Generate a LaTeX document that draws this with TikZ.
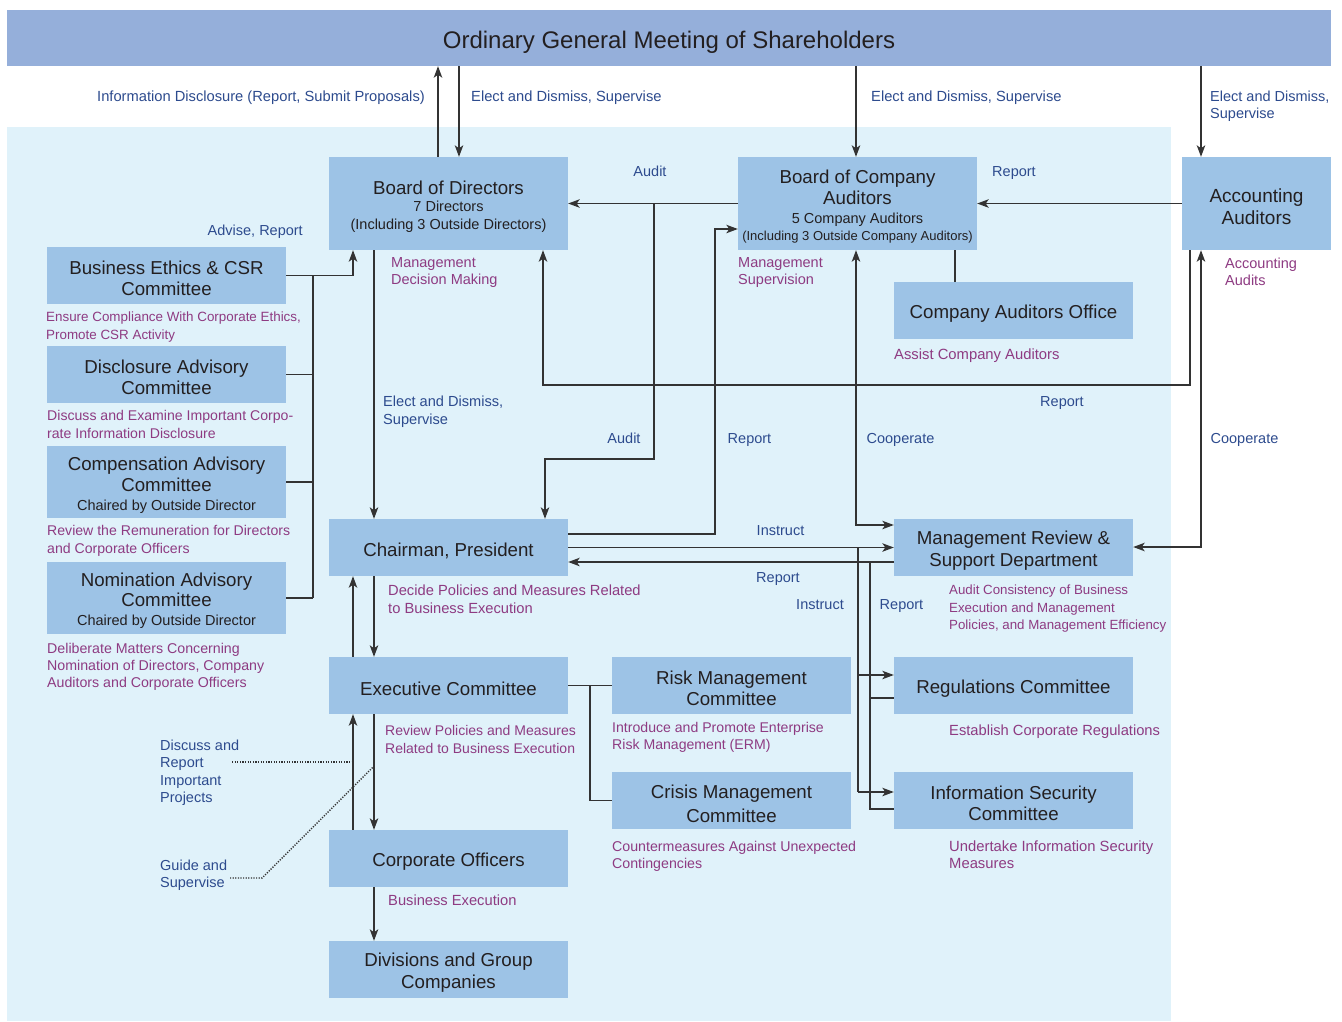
\documentclass[tikz,border=0pt]{standalone}
\usepackage{fontspec}
\setmainfont{Liberation Sans}
\usetikzlibrary{arrows.meta}
\definecolor{boxc}{HTML}{9DC3E6}
\definecolor{banc}{HTML}{95AFDA}
\definecolor{bgc}{HTML}{E0F2FA}
\definecolor{bluet}{HTML}{2D4B8E}
\definecolor{magt}{HTML}{8E3B82}
\definecolor{txt}{HTML}{231F20}
\definecolor{linec}{HTML}{333333}
\newcommand\BxF{\fontsize{18.7}{21.5}\selectfont}
\newcommand\SbF{\fontsize{14.5}{17.5}\selectfont}
\newcommand\LF[2]{\fontsize{#1}{#2}\selectfont}
\begin{document}
\begin{tikzpicture}[x=1pt,y=-1pt,
  ubox/.style={fill=boxc, inner sep=0pt, text width=239pt, text height=19.6pt, minimum height=57pt, align=flush center, text=txt, font=\BxF},
  bl/.style={text=bluet, inner sep=0pt, font=\LF{14.5}{17}, align=left},
  mg/.style={text=magt, inner sep=0pt, font=\LF{14.5}{17}, align=left},
  ln/.style={draw=linec, line width=1.2pt},
  arr/.style={ln, -{Stealth[length=11.5pt,width=8.5pt,inset=3pt]}},
  arrb/.style={ln, {Stealth[length=11.5pt,width=8.5pt,inset=3pt]}-{Stealth[length=11.5pt,width=8.5pt,inset=3pt]}},
  dotl/.style={draw=linec, line width=1.4pt, dash pattern=on 1.2pt off 1.4pt}]
\useasboundingbox (0,0) rectangle (1342,1021);
\fill[white] (0,0) rectangle (1342,1021);
\fill[bgc] (7,127) rectangle (1171,1021);

% ---------- boxes ----------
\node[ubox, fill=banc, text width=1324pt, text height=25.5pt, minimum height=56pt, font=\fontsize{24}{28}\selectfont] (gm) at (669,38) {Ordinary General Meeting of Shareholders};
\node[ubox, minimum height=93pt, font=\SbF] (bod) at (448.5,203.5) {{\BxF Board of Directors}\\7 Directors\\(Including 3 Outside Directors)};
\node[ubox, minimum height=93pt, font=\LF{14.5}{17}] (boca) at (857.5,203.5) {{\BxF Board of Company}\\[2.5pt]{\BxF Auditors}\\[2pt]5 Company Auditors\\{\LF{13}{17}(Including 3 Outside Company Auditors)}};
\node[ubox, text width=149pt, text height=19.9pt, minimum height=93pt, font=\LF{19}{22}] (aa) at (1256.5,203.5) {Accounting\\Auditors};
\node[ubox] (cao) at (1013.5,310.5) {Company Auditors Office};
\node[ubox] (bec) at (166.5,275.5) {Business Ethics \& CSR\\Committee};
\node[ubox] (dac) at (166.5,374.5) {Disclosure Advisory\\Committee};
\node[ubox, minimum height=72pt] (cac) at (166.5,482) {Compensation Advisory\\Committee\\[-2.5pt]{\SbF Chaired by Outside Director}};
\node[ubox, minimum height=72pt, font=\LF{18.7}{20}] (nac) at (166.5,598) {Nomination Advisory\\Committee\\[-1pt]{\SbF Chaired by Outside Director}};
\node[ubox] (chair) at (448.5,547.5) {Chairman, President};
\node[ubox] (mrsd) at (1013.5,547.5) {Management Review \&\\Support Department};
\node[ubox] (ec) at (448.5,685.5) {Executive Committee};
\node[ubox] (rmc) at (731.5,685.5) {Risk Management\\Committee};
\node[ubox] (rc) at (1013.5,685.5) {Regulations Committee};
\node[ubox] (cmc) at (731.5,800.5) {Crisis Management\\[2.5pt]Committee};
\node[ubox] (isc) at (1013.5,800.5) {Information Security\\Committee};
\node[ubox] (co) at (448.5,858.5) {Corporate Officers};
\node[ubox] (dgc) at (448.5,969.5) {Divisions and Group\\Companies};

% ---------- rails ----------
\coordinate (xa) at (438,0);
\coordinate (xb) at (459,0);
\coordinate (xc) at (856,0);
\coordinate (xd) at (1201,0);
\coordinate (xe) at (955,0);
\coordinate (xf) at (374,0);
\coordinate (adv) at (353,0);
\coordinate (bus) at (313,0);
\coordinate (br) at (590,0);

% ---------- connectors ----------
\draw[arr] (bod.north -| xa) -- (gm.south -| xa);
\draw[arr] (gm.south -| xb) -- (bod.north -| xb);
\draw[arr] (gm.south -| xc) -- (boca.north -| xc);
\draw[arr] (gm.south -| xd) -- (aa.north -| xd);
\draw[arr] (boca.west) -- (bod.east);
\draw[arr] (aa.west) -- (boca.east);
\coordinate (au1) at (654,459);
\coordinate (au2) at (545,459);
\draw[arr] (boca.west -| au1) -- (au1) -- (au2) -- (chair.north -| au2);
\coordinate (rp1) at (715,534);
\coordinate (rp2) at (715,229);
\draw[arr] (chair.east |- rp1) -- (rp1) -- (rp2) -- (boca.west |- rp2);
\draw[ln] (boca.south -| xe) -- (cao.north -| xe);
\coordinate (rq1) at (1190,385);
\coordinate (rq2) at (543,385);
\draw[arr] (aa.south -| rq1) -- (rq1) -- (rq2) -- (bod.south -| rq2);
\coordinate (cp1) at (856,525);
\draw[arrb] (boca.south -| cp1) -- (cp1) -- (mrsd.west |- cp1);
\coordinate (cp2) at (1201,547);
\draw[arrb] (aa.south -| cp2) -- (cp2) -- (mrsd.east |- cp2);

\draw[ln] (bec.east -| bus) -- (nac.east -| bus);
\draw[ln] (dac.east) -- (dac.east -| bus);
\draw[ln] (cac.east) -- (cac.east -| bus);
\draw[ln] (nac.east) -- (nac.east -| bus);
\draw[arr] (bec.east) -- (bec.east -| adv) -- (bod.south -| adv);

\draw[arr] (bod.south -| xf) -- (chair.north -| xf);
\draw[arr] (chair.east) -- (mrsd.west);
\coordinate (rr0) at (870,562);
\draw[arr] (mrsd.west |- rr0) -- (chair.east |- rr0);
\coordinate (in1) at (858,675);
\coordinate (in2) at (858,792);
\draw[ln] (chair.east -| in1) -- (in2);
\draw[arr] (in1) -- (rc.west |- in1);
\draw[arr] (in2) -- (isc.west |- in2);
\coordinate (rr1) at (870,698);
\coordinate (rr2) at (870,809);
\draw[ln] (rc.west |- rr1) -- (rr1);
\draw[ln] (isc.west |- rr2) -- (rr2) -- (rr0);

\draw[arr] (chair.south -| xf) -- (ec.north -| xf);
\draw[arr] (ec.north -| adv) -- (chair.south -| adv);
\draw[arr] (ec.south -| xf) -- (co.north -| xf);
\draw[arr] (co.north -| adv) -- (ec.south -| adv);
\draw[arr] (co.south -| xf) -- (dgc.north -| xf);
\draw[ln] (ec.east) -- (rmc.west);
\draw[ln] (ec.east -| br) -- (cmc.west -| br) -- (cmc.west);

\coordinate (dA) at (232,762);
\coordinate (dB) at (353,762);
\draw[dotl] (dA) -- (dB);
\coordinate (gA) at (230,878);
\coordinate (gB) at (262,878);
\coordinate (gC) at (374,766);
\draw[dotl] (gA) -- (gB) -- (gC);

% ---------- blue labels ----------
\node[bl, anchor=base east, font=\LF{14.7}{17}] (l1) at (425,101.2) {Information Disclosure (Report, Submit Proposals)};
\node[bl, anchor=base west, font=\LF{14.7}{17}] (l2) at (471,101.2) {Elect and Dismiss, Supervise};
\node[bl, anchor=base west, font=\LF{14.7}{17}] (l3) at (871,101.2) {Elect and Dismiss, Supervise};
\node[bl, anchor=north west] (l4) at (1210,90.8) {Elect and Dismiss,\\Supervise};
\node[bl, anchor=base] (l5) at (650,176.2) {Audit};
\node[bl, anchor=base] (l6) at (1014,176.2) {Report};
\node[bl, anchor=base east] (l7) at (303,235.2) {Advise, Report};
\node[bl, anchor=north west, font=\LF{14.6}{18}] (l8) at (383,395.8) {Elect and Dismiss,\\Supervise};
\node[bl, anchor=base] (l9) at (1062,406.2) {Report};
\node[bl, anchor=base] (l10) at (624,443.2) {Audit};
\node[bl, anchor=base] (l11) at (749.5,443.2) {Report};
\node[bl, anchor=base] (l12) at (900.5,443.2) {Cooperate};
\node[bl, anchor=base] (l13) at (1244.5,443.2) {Cooperate};
\node[bl, anchor=base] (l14) at (780.5,535.2) {Instruct};
\node[bl, anchor=base] (l15) at (778,582.2) {Report};
\node[bl, anchor=base] (l16) at (820,609.2) {Instruct};
\node[bl, anchor=base] (l17) at (901.5,609.2) {Report};
\node[bl, anchor=north west, font=\LF{14.5}{17.3}] (l18) at (160,739.8) {Discuss and\\Report\\Important\\Projects};
\node[bl, anchor=north west] (l19) at (160,859.8) {Guide and\\Supervise};

% ---------- magenta labels ----------
\node[mg, anchor=north west] (m1) at (391,257.8) {Management\\Decision Making};
\node[mg, anchor=north west] (m2) at (738,257.8) {Management\\Supervision};
\node[mg, anchor=north west] (m3) at (1225,257.8) {Accounting\\Audits};
\node[mg, anchor=base west, font=\LF{14.8}{17}] (m4) at (894,359.2) {Assist Company Auditors};
\node[mg, anchor=north west, font=\LF{13.4}{18}] (m5) at (46,311.8) {Ensure Compliance With Corporate Ethics,\\Promote CSR Activity};
\node[mg, anchor=north west, font=\LF{14.1}{18}] (m6) at (47,409.8) {Discuss and Examine Important Corpo-\\rate Information Disclosure};
\node[mg, anchor=north west, font=\LF{14.1}{18}] (m7) at (47,524.8) {Review the Remuneration for Directors\\and Corporate Officers};
\node[mg, anchor=north west, font=\LF{14.2}{17}] (m8) at (47,642.8) {Deliberate Matters Concerning\\Nomination of Directors, Company\\Auditors and Corporate Officers};
\node[mg, anchor=north west, font=\LF{14.7}{18}] (m9) at (388,584.8) {Decide Policies and Measures Related\\to Business Execution};
\node[mg, anchor=north west, font=\LF{13.3}{17.5}] (m10) at (949,584.8) {Audit Consistency of Business\\Execution and Management\\Policies, and Management Efficiency};
\node[mg, anchor=north west, font=\LF{14}{18}] (m11) at (385,724.8) {Review Policies and Measures\\Related to Business Execution};
\node[mg, anchor=north west, font=\LF{14.1}{17}] (m12) at (612,721.8) {Introduce and Promote Enterprise\\Risk Management (ERM)};
\node[mg, anchor=base west, font=\LF{14.7}{17}] (m13) at (949,735.2) {Establish Corporate Regulations};
\node[mg, anchor=north west, font=\LF{14.2}{17}] (m14) at (612,840.8) {Countermeasures Against Unexpected\\Contingencies};
\node[mg, anchor=north west, font=\LF{14.8}{17}] (m15) at (949,840.8) {Undertake Information Security\\Measures};
\node[mg, anchor=base west, font=\LF{14.7}{17}] (m16) at (388,905.2) {Business Execution};
\end{tikzpicture}
\end{document}
